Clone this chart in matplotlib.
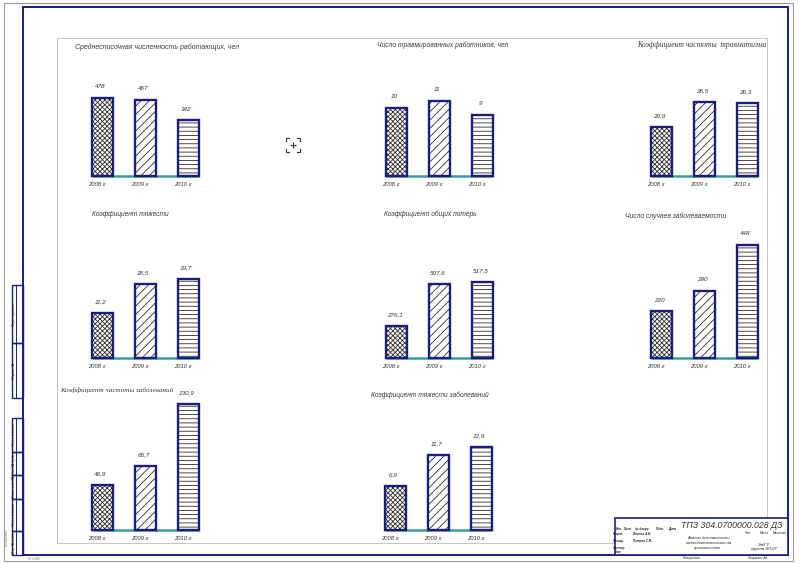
""" Bar charts of injury and sickness figures laid out on a drawing sheet """

import matplotlib
matplotlib.use("Agg")
import matplotlib.pyplot as plt
from matplotlib.patches import Rectangle

# data
years = ["2008 г", "2009 г", "2010 г"]

staff = [478, 467, 342]
injured = [10, 11, 9]
injury_freq = [20.9, 26.5, 26.3]
injury_sev = [11.2, 18.5, 19.7]
total_loss = [276.1, 507.6, 517.5]
sick_cases = [220, 290, 448]
sick_freq = [46.9, 66.7, 130.9]
sick_sev = [6.9, 11.7, 12.9]

titles = [
    "Среднесписочная численность работающих, чел",
    "Число травмированных работников, чел",
    "Коэффициент частоты  травматизма",
    "Коэффициент тяжести",
    "Коэффициент общих потерь",
    "Число случаев заболеваемости",
    "Коэффициент частоты заболеваний",
    "Коэффициент тяжести заболеваний",
]
series = [staff, injured, injury_freq, injury_sev,
          total_loss, sick_cases, sick_freq, sick_sev]

# layout in sheet pixels: first bar left, baseline y, tallest bar height, axis min
layout = [
    (92, 176, 78, 0), (386, 176, 75, 0), (651, 176, 74, 10),
    (92, 358, 79, 0), (386, 358, 76, 100), (651, 358, 113, 60),
    (92, 530, 126, 0), (385, 530, 83, 0),
]
title_pos = [(75, 47), (377, 45), (637, 45), (92, 215),
             (384, 214), (625, 216), (60, 390), (371, 395)]
title_font = [("Liberation Sans", 5.0), ("Liberation Sans", 4.9),
              ("Liberation Serif", 5.5), ("Liberation Sans", 4.8),
              ("Liberation Sans", 4.8), ("Liberation Sans", 4.85),
              ("Liberation Serif", 5.1), ("Liberation Sans", 4.8)]

NAVY = "#1c1c7e"
GRAY = "#9a9a9a"
TEAL = "#3a9e9a"
HATCHES = ["xxxxxxx", "////", "----"]

W, H = 800, 564
fig = plt.figure(figsize=(W / 100, H / 100), dpi=100)
plt.rcParams["hatch.linewidth"] = 0.6

# sheet overlay in pixel coordinates
sheet = fig.add_axes([0, 0, 1, 1])
sheet.set_xlim(0, W)
sheet.set_ylim(H, 0)
sheet.axis("off")


def line(x0, y0, x1, y1, color=NAVY, lw=1.0):
    sheet.plot([x0, x1], [y0, y1], color=color, lw=lw, solid_capstyle="butt")


def box(x0, y0, x1, y1, color=NAVY, lw=1.0, face="none", z=2):
    sheet.add_patch(Rectangle((x0, y0), x1 - x0, y1 - y0, fill=face != "none",
                              facecolor=face if face != "none" else "white",
                              edgecolor=color, lw=lw, zorder=z))


def txt(x, y, s, size=3.5, rot=0, ha="center", style="italic",
        family="Liberation Sans", color="#222222", weight="normal"):
    sheet.text(x, y, s, fontsize=size, rotation=rot, ha=ha, va="center",
               style=style, family=family, color=color, weight=weight)


# outer sheet, frame and content area
box(4, 3, 793, 561, color=GRAY, lw=0.8)
box(57, 38, 767, 543, color="#c4c4c4", lw=0.7)
box(23, 7, 788, 555, color=NAVY, lw=1.4)

# side stamp
side_boxes = [(285, 343), (343, 398), (418, 452), (452, 475),
              (475, 499), (499, 531), (531, 555)]
side_labels = ["Перв. примен.", "Справ. №", "Подп. и дата", "Инв. № дубл.",
               "Взам. инв. №", "Подп. и дата", "Инв. № подл."]
for (y0, y1), s in zip(side_boxes, side_labels):
    box(12, y0, 23, y1, lw=1.0)
    line(16, y0, 16, y1, lw=0.7)
    txt(14, (y0 + y1) / 2, s, size=2.6, rot=90)
txt(7, 538, "Копировал", size=2.4, rot=90, color="#777777")
txt(34, 559, "Ф-т А3", size=2.4, color="#777777")

# title block
box(615, 518, 788, 555, lw=1.2, face="white", z=3)
for x in [622.7, 631.7, 653, 667, 677]:
    line(x, 518, x, 555, lw=0.8)
for y in [523, 527.7, 531, 537.7, 545]:
    line(615, y, 677, y, lw=0.7)
line(677, 531, 788, 531, lw=1.0)
line(740, 531, 740, 555, lw=1.0)
line(740, 535, 788, 535, lw=0.7)
line(740, 539, 788, 539, lw=0.7)
for x in [756, 772]:
    line(x, 531, x, 539, lw=0.7)
for s, x, y in [("Изм.", 619, 529), ("Лист", 627, 529), ("№ докум.", 642, 529),
                ("Подп.", 660, 529), ("Дата", 672, 529),
                ("Разраб.", 619, 534), ("Провер.", 619, 541),
                ("Т.контр.", 619, 548), ("Утв.", 619, 552)]:
    txt(x, y, s, size=2.2, weight="bold")
for s, y in [("Иванов А.В.", 534), ("Петров С.И.", 541)]:
    txt(642, y, s, size=2.2, weight="bold")
txt(732, 525, "ТПЗ 304.0700000.028 ДЗ", size=6.3, color="#333333")
txt(708, 543, "Анализ безопасности\nжизнедеятельности на\nпроизводстве",
    size=3.0)
for s, x in [("Лит.", 748), ("Масса", 764), ("Масштаб", 780)]:
    txt(x, 533, s, size=2.2)
txt(764, 547, "ЗабГУ\nгруппа ЭЛ-07", size=3.0)
txt(692, 558, "Копировал", size=2.6)
txt(758, 558, "Формат А1", size=2.6)

# cursor mark
for cx, cy, dx, dy in [(286, 138, 1, 1), (300, 138, -1, 1),
                       (286, 152, 1, -1), (300, 152, -1, -1)]:
    sheet.plot([cx + 3 * dx, cx, cx], [cy, cy, cy + 3 * dy], color="#333333", lw=0.8)
line(290, 145, 296, 145, color="#333333", lw=0.8)
line(293, 142, 293, 148, color="#333333", lw=0.8)

# titles
for s, (x, y), (fam, size) in zip(titles, title_pos, title_font):
    txt(x, y, s, size=size, ha="left", family=fam, color="#3a3a3a")

# charts
AX_W, AX_H = 129, 140
for vals, (left, base_y, hmax, vmin) in zip(series, layout):
    ax = fig.add_axes([(left - 11) / W, (H - base_y) / H, AX_W / W, AX_H / H])
    ax.set_zorder(4)
    ax.patch.set_alpha(0)
    ax.axis("off")
    top = vmin + (max(vals) - vmin) * AX_H / hmax
    ax.set_xlim(-0.5, 2.5)
    ax.set_ylim(vmin, top)
    heights = [v - vmin for v in vals]
    ax.hlines(vmin, -0.245, 2.245, color=TEAL, lw=1.8, zorder=1, clip_on=False)
    for i, (h, hatch) in enumerate(zip(heights, HATCHES)):
        ax.bar(i, h, bottom=vmin, width=0.49, color="white", edgecolor="#2e2e2e",
               hatch=hatch, linewidth=0, zorder=2)
        ax.bar(i, h, bottom=vmin, width=0.49, fill=False, edgecolor=NAVY,
               linewidth=1.7, zorder=3, clip_on=False)
    for i, v in enumerate(vals):
        label = f"{v:g}".replace(".", ",")
        ax.annotate(label, (i, v), xytext=(-1.5, 8), textcoords="offset points",
                    ha="center", va="center", fontsize=4.6, style="italic",
                    family="Liberation Sans", color="#333333",
                    annotation_clip=False)
        ax.annotate(years[i], (i, vmin), xytext=(-4, -6), textcoords="offset points",
                    ha="center", va="center", fontsize=4.2, style="italic",
                    family="Liberation Sans", color="#333333",
                    annotation_clip=False)

fig.savefig("out.png", dpi=100, facecolor="white")
